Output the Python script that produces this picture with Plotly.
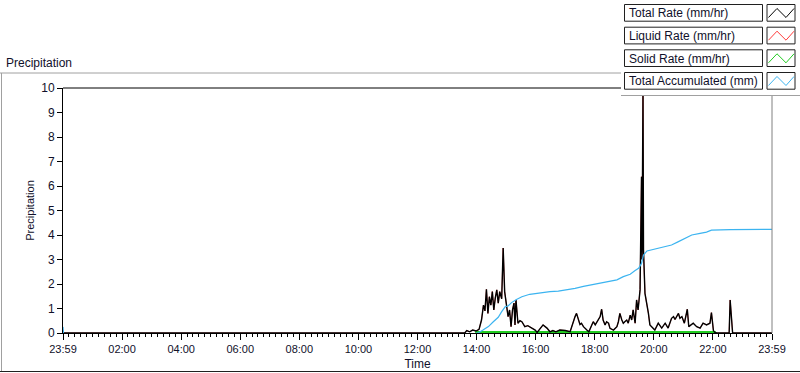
import plotly.graph_objects as go
from datetime import datetime, timedelta

# ---------------- data ----------------
# time stamps: "d HH:MM" where d=1 is the previous day (23:59 start), d=2 is the event day
total_times = [
    "1 23:59", "2 13:35", "2 13:39", "2 13:45", "2 13:51", "2 13:58", "2 14:04", "2 14:09",
    "2 14:13", "2 14:16", "2 14:19", "2 14:22", "2 14:25", "2 14:28", "2 14:31", "2 14:34",
    "2 14:37", "2 14:40", "2 14:43", "2 14:46", "2 14:50", "2 14:53", "2 14:56", "2 15:00",
    "2 15:03", "2 15:06", "2 15:09", "2 15:12", "2 15:15", "2 15:17", "2 15:19", "2 15:23",
    "2 15:27", "2 15:31", "2 15:37", "2 15:43", "2 15:51", "2 15:58", "2 16:02", "2 16:08",
    "2 16:14", "2 16:22", "2 16:28", "2 16:34", "2 16:40", "2 16:48", "2 16:59", "2 17:09",
    "2 17:13", "2 17:19", "2 17:22", "2 17:26", "2 17:29", "2 17:32", "2 17:36", "2 17:43",
    "2 17:47", "2 17:53", "2 17:56", "2 18:00", "2 18:06", "2 18:10", "2 18:13", "2 18:16",
    "2 18:20", "2 18:23", "2 18:27", "2 18:30", "2 18:37", "2 18:40", "2 18:44", "2 18:47",
    "2 18:50", "2 18:54", "2 18:57", "2 19:00", "2 19:04", "2 19:07", "2 19:11", "2 19:14",
    "2 19:17", "2 19:21", "2 19:24", "2 19:27", "2 19:31", "2 19:34", "2 19:35", "2 19:37",
    "2 19:38", "2 19:41", "2 19:45", "2 19:48", "2 19:51", "2 19:55", "2 20:01", "2 20:08",
    "2 20:15", "2 20:22", "2 20:28", "2 20:35", "2 20:39", "2 20:42", "2 20:49", "2 20:52",
    "2 20:56", "2 21:01", "2 21:07", "2 21:10", "2 21:19", "2 21:26", "2 21:33", "2 21:39",
    "2 21:46", "2 21:53", "2 21:56", "2 22:00", "2 22:03", "2 22:07", "2 22:32", "2 22:34",
    "2 22:37", "2 22:39", "2 23:59",
]
total_rate = [
    0.0, 0.0, 0.10, 0.05, 0.12, 0.08, 0.15, 0.53,
    1.14, 0.90, 1.78, 0.80, 1.48, 1.14, 1.69, 0.94,
    1.43, 1.76, 1.22, 1.69, 1.40, 3.47, 1.69, 1.07,
    0.67, 0.94, 0.26, 0.94, 1.22, 0.33, 1.35, 0.40,
    0.50, 0.46, 0.26, 0.30, 0.19, 0.12, 0.02, 0.20,
    0.33, 0.20, 0.05, 0.10, 0.05, 0.12, 0.10, 0.05,
    0.33, 0.67, 0.80, 0.50, 0.35, 0.40, 0.26, 0.12,
    0.05, 0.33, 0.46, 0.33, 0.53, 0.67, 0.97, 0.53,
    0.33, 0.46, 0.40, 0.19, 0.12, 0.19, 0.26, 0.46,
    0.80, 0.53, 0.40, 0.46, 0.53, 0.40, 0.73, 0.53,
    0.94, 0.40, 1.35, 0.94, 1.76, 6.38, 3.00, 9.90,
    3.39, 1.62, 1.20, 0.80, 0.33, 0.25, 0.12, 0.40,
    0.20, 0.40, 0.20, 0.60, 0.67, 0.55, 0.80, 0.60,
    0.67, 0.40, 0.97, 0.26, 0.40, 0.26, 0.20, 0.40,
    0.33, 0.40, 0.83, 0.10, 0.02, 0.0, 0.0, 1.35,
    0.50, 0.0, 0.0,
]
# liquid rate coincides with the total rate in the reference (hidden underneath it)
liquid_times = total_times
liquid_rate = total_rate

solid_times = ["2 13:56", "2 22:05"]
solid_rate = [0.0, 0.0]

accum_times = [
    "1 23:59", "2 00:00", "2 00:01", "2 13:58", "2 14:02", "2 14:12", "2 14:23", "2 14:33",
    "2 14:43", "2 14:50", "2 14:57", "2 15:03", "2 15:10", "2 15:20", "2 15:31", "2 15:47",
    "2 16:08", "2 16:28", "2 16:45", "2 17:02", "2 17:19", "2 17:36", "2 17:53", "2 18:10",
    "2 18:26", "2 18:44", "2 18:57", "2 19:11", "2 19:21", "2 19:28", "2 19:34", "2 19:38",
    "2 19:45", "2 19:58", "2 20:18", "2 20:35", "2 20:49", "2 21:02", "2 21:16", "2 21:33",
    "2 21:46", "2 21:56", "2 22:34", "2 23:59",
]
accum_total = [
    0.25, 0.0, None, 0.0, 0.0, 0.12, 0.26, 0.46,
    0.64, 0.87, 1.07, 1.10, 1.24, 1.37, 1.48, 1.58,
    1.65, 1.69, 1.71, 1.76, 1.82, 1.90, 1.96, 2.03,
    2.10, 2.17, 2.30, 2.40, 2.55, 2.64, 2.84, 3.18,
    3.35, 3.42, 3.50, 3.59, 3.73, 3.87, 4.00, 4.07,
    4.12, 4.20, 4.22, 4.23,
]

x_tick_labels = ["23:59", "02:00", "04:00", "06:00", "08:00", "10:00", "12:00",
                 "14:00", "16:00", "18:00", "20:00", "22:00", "23:59"]
y_tick_values = list(range(0, 11))

legend_labels = ["Total Rate (mm/hr)", "Liquid Rate (mm/hr)",
                 "Solid Rate (mm/hr)", "Total Accumulated (mm)"]

# ---------------- helpers ----------------
def stamp(s):
    d, hm = s.split(" ")
    return f"2024-03-0{d} {hm}"

START = datetime(2024, 3, 1, 23, 59)
END = START + timedelta(hours=24)
tickvals = [(START + timedelta(hours=2 * k)).strftime("%Y-%m-%d %H:%M") for k in range(len(x_tick_labels))]

W, H = 800, 373
PL, PR, PT, PB = 63, 772, 88, 333   # plot area in pixels


def px(x):
    return (x - PL) / (PR - PL)


def py(y):
    return (PB - y) / (PB - PT)


TXT = "#10102a"
FONT = "Liberation Sans"
BLACK, RED, GREEN, BLUE = "#000000", "#ff3c3c", "#22cc22", "#3cb4f0"

fig = go.Figure()
fig.add_trace(go.Scatter(x=[stamp(t) for t in liquid_times], y=liquid_rate, mode="lines",
                         line=dict(color=RED, width=0.8), name=legend_labels[1]))
fig.add_trace(go.Scatter(x=[stamp(t) for t in solid_times], y=solid_rate, mode="lines",
                         line=dict(color=GREEN, width=4), name=legend_labels[2]))
fig.add_trace(go.Scatter(x=[stamp(t) for t in total_times], y=total_rate, mode="lines",
                         line=dict(color=BLACK, width=1.4), name=legend_labels[0]))
fig.add_trace(go.Scatter(x=[stamp(t) for t in accum_times], y=accum_total, mode="lines",
                         line=dict(color=BLUE, width=1.2), connectgaps=False,
                         name=legend_labels[3]))

fig.update_layout(
    width=W, height=H,
    margin=dict(l=PL, r=W - PR, t=PT, b=H - PB, autoexpand=False),
    paper_bgcolor="white", plot_bgcolor="white",
    showlegend=False,
    font=dict(family=FONT, size=11, color=TXT),
)
fig.update_xaxes(
    type="date",
    range=[START.strftime("%Y-%m-%d %H:%M"), END.strftime("%Y-%m-%d %H:%M")],
    tickmode="array", tickvals=tickvals, ticktext=x_tick_labels,
    ticks="outside", ticklen=6, tickcolor="black", tickwidth=1,
    minor=dict(ticks="outside", ticklen=3, tickcolor="black", tickwidth=1,
               dtick=12 * 60 * 1000, tick0=START.strftime("%Y-%m-%d %H:%M"), showgrid=False),
    showline=True, linecolor="black", linewidth=1,
    showgrid=False, zeroline=False,
    tickfont=dict(family=FONT, size=11, color=TXT),
    title=dict(text="Time", font=dict(family=FONT, size=12, color=TXT), standoff=5),
)
fig.update_yaxes(
    range=[0, 10], tickmode="array", tickvals=y_tick_values,
    ticks="outside", ticklen=5, tickcolor="black", tickwidth=1,
    showline=True, linecolor="black", linewidth=1,
    showgrid=False, zeroline=False,
    tickfont=dict(family=FONT, size=12, color=TXT),
    title=dict(text="Precipitation", font=dict(family=FONT, size=11, color=TXT), standoff=4),
)

shapes = []
GRAY = "#a0a0a0"
# outer frame of the graph panel
shapes.append(dict(type="line", xref="paper", yref="paper", x0=px(0), x1=px(800), y0=py(73), y1=py(73),
                   line=dict(color=GRAY, width=1)))
shapes.append(dict(type="line", xref="paper", yref="paper", x0=px(1.5), x1=px(1.5), y0=py(73), y1=py(372),
                   line=dict(color=GRAY, width=1)))
shapes.append(dict(type="line", xref="paper", yref="paper", x0=px(0), x1=px(800), y0=py(371.5), y1=py(371.5),
                   line=dict(color="#202020", width=1)))
# plot-area top / right borders
shapes.append(dict(type="line", xref="paper", yref="paper", x0=0, x1=1, y0=1, y1=1,
                   line=dict(color="black", width=1)))
shapes.append(dict(type="line", xref="paper", yref="paper", x0=1, x1=1, y0=0, y1=1,
                   line=dict(color="#808080", width=1)))
# legend panel
shapes.append(dict(type="rect", xref="paper", yref="paper", x0=px(621), x1=px(801), y0=py(95), y1=py(-1),
                   fillcolor="white", line=dict(width=0)))
shapes.append(dict(type="line", xref="paper", yref="paper", x0=px(621), x1=px(800), y0=py(95.5), y1=py(95.5),
                   line=dict(color=GRAY, width=1)))

annotations = []
row_tops = [4.5, 27.2, 49.8, 72.5]
row_h = 16.7
for label, color, top in zip(legend_labels, [BLACK, RED, GREEN, BLUE], row_tops):
    shapes.append(dict(type="rect", xref="paper", yref="paper", x0=px(624.5), x1=px(762.5),
                       y0=py(top + row_h), y1=py(top), fillcolor="white",
                       line=dict(color="#202020", width=1)))
    shapes.append(dict(type="rect", xref="paper", yref="paper", x0=px(767), x1=px(795),
                       y0=py(top + row_h), y1=py(top), fillcolor="white",
                       line=dict(color="#202020", width=1)))
    zx = [768.5, 777, 786, 794]
    zy = [top + 13, top + 4, top + 13, top + 4]
    path = "M " + " L ".join(f"{px(a):.5f},{py(b):.5f}" for a, b in zip(zx, zy))
    shapes.append(dict(type="path", xref="paper", yref="paper", path=path,
                       line=dict(color=color, width=1)))
    annotations.append(dict(text=label, xref="paper", yref="paper", x=px(626.5), y=py(top + row_h / 2 + 0.5),
                            xanchor="left", yanchor="middle", showarrow=False,
                            font=dict(family=FONT, size=12, color=TXT)))

annotations.append(dict(text="Precipitation", xref="paper", yref="paper", x=px(4), y=py(63),
                        xanchor="left", yanchor="middle", showarrow=False,
                        font=dict(family=FONT, size=12, color=TXT)))

fig.update_layout(shapes=shapes, annotations=annotations)
fig.write_html("out.html", config={"displayModeBar": False},
               post_script="document.body.style.margin='0';document.body.style.overflow='hidden';")
